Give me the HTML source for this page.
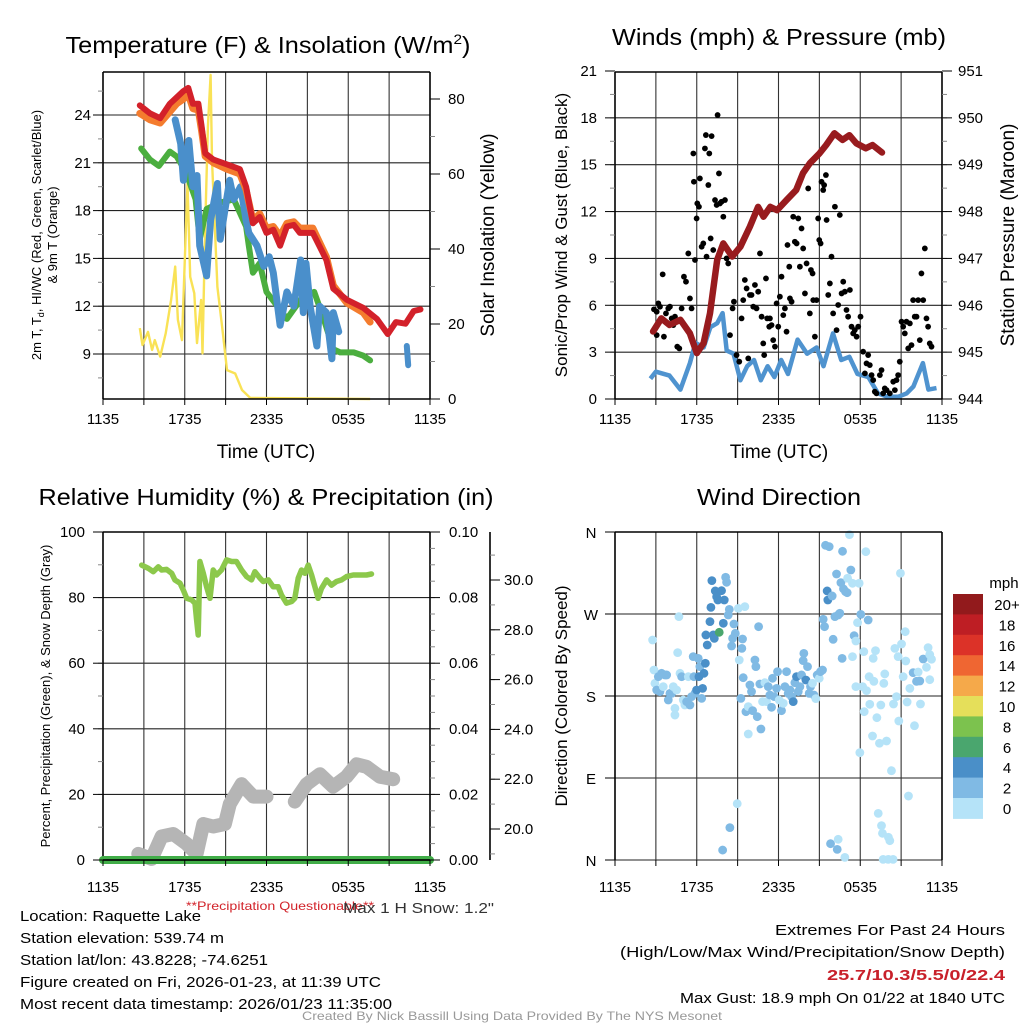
<!DOCTYPE html>
<html><head><meta charset="utf-8"><style>
html,body{margin:0;padding:0;background:#fff}
svg{display:block;font-family:"Liberation Sans",Arial,sans-serif}
</style></head><body>
<svg id="fig" width="1024" height="1024" viewBox="0 0 1024 1024" xmlns="http://www.w3.org/2000/svg">
<rect width="1024" height="1024" fill="#fff"/>
<g id="grids"></g>
<g id="series"></g>
<g id="axes"></g>
<!-- titles -->
<text x="268" y="53" font-size="23" text-anchor="middle" textLength="405" lengthAdjust="spacingAndGlyphs">Temperature (F) &amp; Insolation (W/m<tspan font-size="14" dy="-9">2</tspan><tspan dy="9">)</tspan></text>
<text x="779" y="45" font-size="23" text-anchor="middle" textLength="334" lengthAdjust="spacingAndGlyphs">Winds (mph) &amp; Pressure (mb)</text>
<text x="266" y="505" font-size="23" text-anchor="middle" textLength="455" lengthAdjust="spacingAndGlyphs">Relative Humidity (%) &amp; Precipitation (in)</text>
<text x="779" y="505" font-size="23" text-anchor="middle" textLength="164" lengthAdjust="spacingAndGlyphs">Wind Direction</text>
<!-- axis titles -->
<text x="266" y="458" font-size="19" text-anchor="middle">Time (UTC)</text>
<text x="779" y="458" font-size="19" text-anchor="middle">Time (UTC)</text>
<g transform="translate(41,235) rotate(-90)"><text x="0" y="0" font-size="13" text-anchor="middle">2m T, T<tspan font-size="9" dy="3">d</tspan><tspan dy="-3">, HI/WC (Red, Green, Scarlet/Blue)</tspan></text><text x="0" y="16" font-size="13" text-anchor="middle">&amp; 9m T (Orange)</text></g>
<text transform="translate(494,235) rotate(-90)" font-size="19" text-anchor="middle">Solar Insolation (Yellow)</text>
<text transform="translate(567,235) rotate(-90)" font-size="17" text-anchor="middle">Sonic/Prop Wind &amp; Gust (Blue, Black)</text>
<text transform="translate(1014,235) rotate(-90)" font-size="19" text-anchor="middle">Station Pressure (Maroon)</text>
<text transform="translate(50,696) rotate(-90)" font-size="13" text-anchor="middle">Percent, Precipitation (Green), &amp; Snow Depth (Gray)</text>
<text transform="translate(567,696) rotate(-90)" font-size="17" text-anchor="middle">Direction (Colored By Speed)</text>
<!-- bottom text -->
<text x="186" y="910" font-size="12" fill="#d2232a" textLength="188" lengthAdjust="spacingAndGlyphs">**Precipitation Questionable**</text>
<text x="343" y="913" font-size="15" fill="#333" textLength="151" lengthAdjust="spacingAndGlyphs">Max 1 H Snow: 1.2"</text>
<g font-size="15" fill="#000">
<text x="20" y="921" textLength="181" lengthAdjust="spacingAndGlyphs">Location: Raquette Lake</text>
<text x="20" y="943" textLength="204" lengthAdjust="spacingAndGlyphs">Station elevation: 539.74 m</text>
<text x="20" y="965" textLength="248" lengthAdjust="spacingAndGlyphs">Station lat/lon: 43.8228; -74.6251</text>
<text x="20" y="987" textLength="361" lengthAdjust="spacingAndGlyphs">Figure created on Fri, 2026-01-23, at 11:39 UTC</text>
<text x="20" y="1009" textLength="372" lengthAdjust="spacingAndGlyphs">Most recent data timestamp: 2026/01/23 11:35:00</text>
</g>
<g font-size="15" text-anchor="end">
<text x="1005" y="935" textLength="230" lengthAdjust="spacingAndGlyphs">Extremes For Past 24 Hours</text>
<text x="1005" y="957" textLength="385" lengthAdjust="spacingAndGlyphs">(High/Low/Max Wind/Precipitation/Snow Depth)</text>
<text x="1005" y="980" font-weight="bold" fill="#c8202a" textLength="178" lengthAdjust="spacingAndGlyphs">25.7/10.3/5.5/0/22.4</text>
<text x="1005" y="1003" textLength="325" lengthAdjust="spacingAndGlyphs">Max Gust: 18.9 mph On 01/22 at 1840 UTC</text>
</g>
<text x="512" y="1020" font-size="12" fill="#999" text-anchor="middle" textLength="420" lengthAdjust="spacingAndGlyphs">Created By Nick Bassill Using Data Provided By The NYS Mesonet</text>
</svg>
<script>
// ---------- DATA ----------
const xTickLabels = ["1135","1735","2335","0535","1135"];
const tempTicks = [9,12,15,18,21,24];
const solarTicks = [0,20,40,60,80];
const windTicks = [0,3,6,9,12,15,18,21];
const presTicks = [944,945,946,947,948,949,950,951];
const rhTicks = [0,20,40,60,80,100];
const precipTicks = ["0.00","0.02","0.04","0.06","0.08","0.10"];
const snowTicks = ["20.0","22.0","24.0","26.0","28.0","30.0"];
const dirLabels = ["N","E","S","W","N"];
const speedBins = ["0","2","4","6","8","10","12","14","16","18","20+"];
const speedColors = ["#b5e3f8","#80bae4","#4a8fc8","#4aa66e","#7cc24e","#e5df5a","#f5a94a","#ef6632","#dc3228","#be1e24","#921a1c"];

const redH = [2.7,3.45,4.2,4.9,5.4,5.9,6.26,6.6,7.0,7.24,7.5,8.1,9.1,10.05,10.5,11.0,11.5,12.0,12.5,13.0,13.5,14.0,14.45,15.4,16.4,16.9,17.9,19.1,20.1,20.9,21.5,22.2,22.8,23.3];
const redT = [24.6,24.1,23.8,24.7,25.1,25.5,25.7,24.7,24.7,23.3,21.6,21.2,20.9,20.6,19.5,17.2,17.6,16.6,16.8,15.8,17.0,17.1,16.6,16.6,14.9,13.1,12.4,11.9,11.2,10.25,11.0,10.9,11.7,11.8];
const orangeH = [2.7,3.45,4.2,4.9,5.4,5.9,6.26,6.6,7.0,7.24,7.5,8.1,9.1,10.05,10.5,11.0,11.5,12.0,12.5,13.0,13.5,14.0,14.45,15.4,16.4,16.9,17.9,19.1,19.6];
const orangeT = [24.1,23.7,23.5,24.2,24.7,25.0,25.3,24.4,24.3,23.0,21.4,21.0,20.6,20.3,19.3,17.4,17.8,16.9,17.0,16.4,17.2,17.3,16.9,16.9,15.1,13.3,12.2,11.6,11.0];
const dewH = [2.8,3.45,4.1,4.9,5.4,6.1,6.8,7.1,7.6,8.6,9.6,10.5,10.7,11.0,11.5,12.0,12.8,13.5,14.5,15.5,16.2,16.9,17.4,18.4,19.1,19.6];
const dewT = [21.9,21.2,20.8,21.7,21.4,20.4,18.7,16.2,18.1,18.5,18.7,17.0,15.8,14.1,14.7,12.9,12.0,11.2,12.4,12.9,11.2,9.3,9.1,9.1,8.9,8.6];
const wcH = [5.3,5.7,5.9,6.3,6.6,6.9,7.1,7.6,7.9,8.4,8.6,9.3,9.6,10.1,10.5,10.7,11.3,11.8,12.2,12.5,13.0,13.5,14.0,14.5,14.7,14.9,15.2,15.7,15.9,16.4,16.8,16.9,17.3];
const wcT = [23.7,22.2,19.9,22.4,19.5,20.2,15.8,13.9,17.4,19.7,16.2,19.9,18.7,19.5,17.4,16.6,15.8,14.5,15.1,14.1,10.8,12.9,12.0,14.9,11.6,14.7,12.0,9.5,12.0,11.6,8.7,11.6,10.4];
const wc2H = [22.3,22.4];
const wc2T = [9.5,8.3];
const solarH = [2.7,2.9,3.3,3.6,3.8,4.2,4.6,5.0,5.3,5.5,5.8,6.0,6.2,6.4,6.7,6.9,7.2,7.3,7.5,7.7,7.9,8.0,8.4,8.8,9.1,9.7,10.2,10.8,19.6];
const solarV = [18.9,14.4,17.9,13.1,15.7,11.3,17.5,26.4,35.3,21.1,15.7,37.1,57.5,32.6,28.2,14.9,26.4,12.2,45.9,72.6,86.4,63.7,29.9,17.5,7.7,6.8,2.4,0.3,0];

const presH = [2.8,3.4,4.0,4.8,5.5,6.0,6.5,6.97,7.5,7.95,8.6,9.2,9.9,10.5,10.9,11.4,11.9,12.6,13.3,13.8,14.3,15.0,15.5,16.1,16.7,17.2,17.7,18.4,18.9,19.6];
const presV = [945.44,945.72,945.58,945.69,945.40,944.98,945.19,945.83,946.97,947.32,947.04,947.25,947.68,948.10,947.89,948.10,948.03,948.25,948.46,948.82,949.03,949.24,949.42,949.67,949.53,949.63,949.46,949.35,949.42,949.26];
const windH = [2.6,3.0,4.0,4.8,5.5,5.9,6.5,7.0,7.5,7.9,8.2,8.7,9.2,9.7,10.2,10.7,11.2,11.7,12.2,12.7,13.4,14.1,14.8,15.3,16.0,16.6,17.2,17.8,18.6,19.3,20.0,20.8,21.4,21.9,22.6,23.0,23.6];
const windV = [1.3,1.75,1.5,0.6,2.3,3.6,3.3,4.6,4.85,5.5,3.1,2.9,1.2,2.1,2.5,1.2,2.1,1.4,2.5,1.6,3.8,2.9,3.3,2.1,4.2,2.5,2.7,1.6,1.4,0.36,0.15,0.15,0.36,0.8,2.3,0.6,0.7];
const gustH = [2.86,3.06,3.18,3.30,3.06,3.50,3.59,3.74,3.91,4.03,4.16,4.28,4.40,4.57,4.72,4.89,5.06,5.21,5.38,5.50,5.62,5.75,5.79,5.87,5.99,6.04,6.16,6.23,6.36,6.48,6.60,6.67,6.72,6.85,6.92,7.02,7.09,7.21,7.34,7.46,7.53,7.63,7.70,7.82,7.95,8.07,8.19,8.31,8.44,8.63,8.73,8.92,9.12,9.29,9.41,9.53,9.66,9.78,9.90,10.02,10.15,10.27,10.39,10.51,10.64,10.76,10.88,10.95,11.08,11.17,11.32,11.37,11.49,11.61,11.74,11.86,11.98,12.10,12.22,12.35,12.47,12.59,12.66,12.79,12.84,12.96,13.08,13.20,13.33,13.45,13.57,13.69,13.81,13.94,14.06,14.18,14.30,14.38,14.50,14.55,14.67,14.79,14.91,14.99,15.09,15.16,15.28,15.35,15.48,15.53,15.65,15.77,15.89,16.01,16.14,16.26,16.38,16.50,16.63,16.75,16.87,16.99,17.11,17.24,17.36,17.48,17.60,17.73,17.85,18.02,18.21,18.34,18.46,18.58,18.70,18.83,18.95,19.07,19.19,19.44,19.56,19.68,19.80,19.93,20.17,20.42,20.54,20.66,20.78,20.90,21.03,21.15,21.27,21.39,21.52,21.64,21.76,21.88,22.00,22.13,22.25,22.37,22.49,22.62,22.74,22.86,22.98,23.10,23.23];
const gustV = [5.74,5.59,6.12,5.91,4.09,7.98,3.99,5.48,5.80,5.91,5.16,4.73,5.27,3.35,3.24,5.80,7.83,7.51,9.32,6.44,5.80,15.72,13.91,8.90,11.56,12.52,12.31,14.12,9.75,9.96,16.04,16.90,9.11,13.70,15.72,10.28,16.83,9.54,12.74,12.42,18.18,14.44,12.52,12.63,11.67,12.74,9.00,8.68,4.09,5.80,6.23,2.81,2.39,5.16,6.33,7.62,7.08,2.60,6.66,6.66,5.91,7.30,5.80,6.87,9.32,5.27,3.56,2.81,7.72,5.16,4.63,5.16,4.73,3.77,3.35,6.12,4.63,6.55,7.83,5.37,5.80,4.31,9.86,8.47,6.44,6.23,11.67,10.07,9.96,11.56,8.47,10.92,9.64,6.76,8.68,13.48,5.48,8.26,8.04,6.33,3.99,6.33,11.56,10.18,9.96,13.91,13.38,13.70,14.34,11.46,6.66,7.40,9.11,5.48,12.31,4.41,6.02,11.78,6.76,7.51,6.87,5.70,5.27,6.98,4.63,4.20,4.41,3.99,4.63,5.27,3.03,1.64,2.28,2.81,2.17,1.53,1.21,0.47,0.36,1.53,1.85,0.36,0.68,0.57,0.36,1.11,0.57,1.21,1.53,2.39,4.95,4.63,4.20,4.95,3.24,4.84,3.45,6.33,5.27,5.27,6.33,3.77,8.04,6.33,9.64,5.16,4.63,3.56,3.35];

const rhH = [2.84,3.33,3.69,4.06,4.30,4.67,5.04,5.28,5.65,5.89,6.14,6.50,6.75,6.87,6.99,7.11,7.36,7.60,7.85,8.09,8.34,8.70,9.07,9.44,9.80,10.17,10.54,10.90,11.15,11.52,11.76,12.13,12.49,12.86,13.10,13.47,13.84,14.08,14.33,14.57,14.82,15.06,15.31,15.55,15.79,16.04,16.41,16.77,17.14,17.51,17.87,18.36,18.85,19.34,19.71];
const rhV = [89.9,88.9,87.9,89.4,88.4,88.6,87.4,85.4,84.4,82.3,79.8,79.3,78.3,73.2,68.6,91.0,87.4,83.3,79.8,88.4,86.9,88.4,91.5,91.0,91.0,88.4,86.4,85.4,87.9,85.9,84.9,85.4,83.3,83.3,80.8,78.3,78.8,79.8,85.9,88.4,87.4,89.9,86.9,83.3,79.8,82.8,85.4,83.8,84.9,85.4,86.4,86.9,86.9,86.9,87.2];
const precipH = [0,24];
const precipV = [0,0];
const snowH = [2.59,3.57,4.30,5.16,6.14,6.87,7.36,8.09,8.95,9.31,10.17,11.03,12.00,null,14.08,14.94,15.92,16.89,17.87,18.61,19.34,20.32,21.30];
const snowV = [19.0,18.8,19.7,19.8,19.4,19.0,20.2,20.1,20.2,21.0,21.8,21.3,21.3,null,21.1,21.8,22.2,21.7,22.1,22.6,22.5,22.1,22.0];

const dirH = [2.76,2.86,2.93,3.06,3.18,3.30,3.42,3.54,3.67,3.79,3.91,4.03,4.16,4.28,4.40,4.40,4.52,4.60,4.69,4.77,4.89,5.01,5.13,5.26,5.38,5.50,5.62,5.74,5.79,5.87,5.99,6.11,6.16,6.23,6.36,6.43,6.53,6.63,6.67,6.77,6.97,7.04,7.11,7.21,7.29,7.36,7.46,7.55,7.65,7.82,7.95,8.02,8.12,8.19,8.31,8.39,8.56,8.63,8.73,8.83,9.05,9.12,9.24,9.31,9.36,9.41,9.53,9.61,9.78,9.78,9.90,10.02,10.10,10.27,10.34,10.44,10.54,10.63,10.71,10.83,11.00,11.12,11.25,11.37,11.49,11.56,11.69,11.86,11.93,12.05,12.22,12.35,12.47,12.59,12.71,12.84,12.96,13.08,13.20,13.32,13.45,13.57,13.69,13.81,13.86,14.01,14.13,14.25,14.35,14.50,14.60,14.74,14.84,14.99,15.08,15.23,15.28,15.38,15.45,15.57,15.62,15.72,15.94,16.01,16.14,16.26,16.38,16.50,16.58,16.67,16.70,16.77,16.92,17.04,17.07,17.21,17.31,17.43,17.43,17.55,17.68,17.68,17.80,17.92,17.97,18.04,18.17,18.26,18.29,18.41,18.46,18.58,18.65,18.70,18.90,18.95,19.00,19.12,19.22,19.32,19.41,19.51,19.56,19.63,19.73,19.80,19.93,20.07,20.17,20.29,20.44,20.54,20.66,20.78,20.83,20.95,21.03,21.15,21.30,21.34,21.44,21.54,21.64,21.88,21.98,22.13,22.25,22.37,22.42,22.62,22.86,22.98,23.10,23.10,23.23,8.43,8.97,7.90,15.82,16.31,16.38,16.87,19.68,20.05,20.41];
const dirV = [241.5,208.5,193.9,186.6,201.2,184.8,204.9,190.3,203.1,203.1,175.6,182.9,182.9,190.3,166.5,159.1,186.6,227.6,267.1,204.9,201.2,175.6,170.1,173.8,201.2,170.1,179.3,223.2,201.2,182.9,186.6,221.3,201.2,212.2,177.4,188.4,204.9,215.9,247.0,236.0,261.6,277.3,306.6,247.0,243.3,295.3,289.0,285.4,249.9,295.6,259.8,285.4,310.3,304.8,268.9,275.1,234.9,243.3,259.0,248.8,276.2,219.5,177.4,232.3,242.6,200.1,278.1,162.8,168.3,138.3,192.1,184.8,163.9,219.5,212.2,157.3,256.1,193.2,143.8,173.8,194.6,173.8,190.3,181.1,167.6,199.4,179.3,188.4,206.7,175.6,163.9,172.0,190.3,206.7,182.9,186.6,179.3,173.8,194.6,201.2,184.8,190.3,203.1,218.8,226.8,197.6,212.2,182.9,190.3,194.0,181.1,177.1,203.1,199.4,206.7,208.5,264.2,256.1,345.4,295.3,285.4,343.9,289.8,242.2,267.1,313.9,268.9,270.8,304.4,221.3,338.8,297.5,294.5,293.4,309.2,357.1,318.3,303.7,223.2,246.2,240.4,190.3,260.5,303.7,117.8,269.6,190.3,228.7,162.8,338.4,185.9,263.4,201.2,170.9,136.1,221.3,196.1,229.8,156.2,51.2,128.1,170.1,37.7,29.3,193.9,204.2,130.6,24.9,21.2,98.0,171.2,232.3,179.3,223.2,152.6,314.7,237.1,201.2,250.6,218.4,173.4,70.2,188.4,205.6,147.4,196.1,206.3,196.5,171.2,220.6,211.5,233.1,225.4,197.9,220.3,35.5,61.8,10.9,17.9,11.7,22.7,2.9,0.7,0.7,0.7];
const dirS = [1,1,1,3,3,3,3,1,3,3,3,3,3,1,1,1,1,1,1,1,3,1,1,3,1,3,3,3,3,3,5,3,5,3,3,5,5,5,5,5,5,5,5,5,5,5,5,5,7,5,5,5,3,3,3,3,3,3,3,3,1,1,3,3,3,3,1,3,1,1,3,3,3,3,3,3,3,3,3,1,1,1,3,3,3,3,3,3,3,1,3,1,3,3,3,3,3,5,3,5,3,3,3,3,3,5,3,3,3,1,3,1,3,1,3,3,3,3,3,5,5,3,3,3,3,3,3,3,3,3,3,3,3,3,1,1,3,1,1,3,1,1,1,1,1,3,1,1,1,1,1,3,1,1,1,1,1,1,1,1,1,1,1,1,1,1,1,1,1,1,1,1,1,1,1,1,1,1,1,1,1,1,1,3,1,3,1,3,1,3,1,1,1,1,1,3,1,3,3,3,1,1,1,1,1];

// ---------- RENDER ----------
const NS = "http://www.w3.org/2000/svg";
const gGrid = document.getElementById('grids');
const gSer = document.getElementById('series');
const gAx = document.getElementById('axes');
function mk(tag, attrs, parent){
  const e = document.createElementNS(NS, tag);
  for (const k in attrs) e.setAttribute(k, attrs[k]);
  (parent||gSer).appendChild(e);
  return e;
}
function panel(x0,x1,y0,y1){
  return {x0,x1,y0,y1,
    sx:h=>x0+(x1-x0)*h/24};
}
function lin(v0,v1,p0,p1){return v=>p0+(v-v0)*(p1-p0)/(v1-v0);}
function pathFrom(xs, ys, fx, fy){
  let d="", pen=false;
  for(let i=0;i<xs.length;i++){
    if(xs[i]===null||ys[i]===null){pen=false;continue;}
    d += (pen?"L":"M")+fx(xs[i]).toFixed(1)+","+fy(ys[i]).toFixed(1);
    pen=true;
  }
  return d;
}
function timeGrid(P, yl, name){
  for(let k=0;k<=8;k++){
    const x=P.sx(k*3);
    const l=mk('line',{x1:x,x2:x,y1:P.y0,y2:P.y1,stroke:k===0||k===8?'#000':'#333','stroke-width':k===0||k===8?1.6:1.1},gGrid);
    
    
    mk('line',{x1:x,x2:x,y1:P.y1,y2:P.y1+6,stroke:'#000','stroke-width':1},gAx);
  }
  xTickLabels.forEach((t,i)=>{
    const tx=mk('text',{x:P.sx(i*6),y:yl,'font-size':15,'text-anchor':'middle'},gAx);
    tx.textContent=t;
    
    
  });
}
function hgrid(P, ys, fy){
  ys.forEach(v=>{mk('line',{x1:P.x0,x2:P.x1,y1:fy(v),y2:fy(v),stroke:'#222','stroke-width':1.1},gGrid);});
}
function leftTicks(P, ticks, fy, lx, name, minorStep, lo, hi){
  mk('line',{x1:P.x0,x2:P.x1,y1:P.y0,y2:P.y0,stroke:'#000','stroke-width':1.6},gAx);
  mk('line',{x1:P.x0,x2:P.x1,y1:P.y1,y2:P.y1,stroke:'#000','stroke-width':1.6},gAx);
  if(minorStep){for(let v=lo;v<=hi+1e-6;v+=minorStep){mk('line',{x1:P.x0-5,x2:P.x0,y1:fy(v),y2:fy(v),stroke:'#888','stroke-width':1},gAx);}}
  ticks.forEach(v=>{
    mk('line',{x1:P.x0-10,x2:P.x0,y1:fy(+v),y2:fy(+v),stroke:'#000','stroke-width':1},gAx);
    const t=mk('text',{x:lx,y:fy(+v)+5,'font-size':15,'text-anchor':'end'},gAx);
    t.textContent=v;
    
    
  });
}
function rightTicks(P, ticks, vals, fy, lx, name, minorStep, lo, hi, ax){
  const X = ax||P.x1;
  if(minorStep){for(let v=lo;v<=hi+1e-6;v+=minorStep){mk('line',{x1:X,x2:X+5,y1:fy(v),y2:fy(v),stroke:'#888','stroke-width':1},gAx);}}
  ticks.forEach((lab,i)=>{
    const v=vals[i];
    mk('line',{x1:X,x2:X+10,y1:fy(v),y2:fy(v),stroke:'#000','stroke-width':1},gAx);
    const t=mk('text',{x:lx,y:fy(v)+5,'font-size':15},gAx);
    t.textContent=lab;
    
    
  });
}

// Panel 1: temperature
const P1=panel(103,430,72,399);
const fT=lin(9,24,354,115), fS=lin(0,80,399,99);
hgrid(P1,tempTicks,fT);
timeGrid(P1,424,'temp');
leftTicks(P1,tempTicks,fT,91,'temp-y',1.5,7.5,25.5);
rightTicks(P1,solarTicks,solarTicks,fS,448,'solar-y',10,0,80);
let e;
e=mk('path',{d:pathFrom(solarH,solarV,P1.sx,fS),fill:'none',stroke:'#f9e256','stroke-width':2.4,'stroke-linejoin':'round'});


e=mk('path',{d:pathFrom(dewH,dewT,P1.sx,fT),fill:'none',stroke:'#4bae3f','stroke-width':6,'stroke-linejoin':'round','stroke-linecap':'round'});


e=mk('path',{d:pathFrom(wcH,wcT,P1.sx,fT),fill:'none',stroke:'#4a8fcb','stroke-width':7,'stroke-linejoin':'round','stroke-linecap':'round'});


e=mk('path',{d:pathFrom(wc2H,wc2T,P1.sx,fT),fill:'none',stroke:'#4a8fcb','stroke-width':6,'stroke-linecap':'round'});


e=mk('path',{d:pathFrom(orangeH,orangeT,P1.sx,fT),fill:'none',stroke:'#f47c2e','stroke-width':7,'stroke-linejoin':'round','stroke-linecap':'round'});


e=mk('path',{d:pathFrom(redH,redT,P1.sx,fT),fill:'none',stroke:'#d3212a','stroke-width':6,'stroke-linejoin':'round','stroke-linecap':'round'});



// Panel 2: winds
const P2=panel(615,942,72,399);
const fW=lin(0,21,399,71), fP=lin(944,951,399,71);
hgrid(P2,windTicks.slice(1,7),fW);
timeGrid(P2,424,'wind');
leftTicks(P2,windTicks,fW,597,'wind-y',1.5,0,21);
rightTicks(P2,presTicks,presTicks,fP,958,'pressure-y',0.5,944,951);
e=mk('path',{d:pathFrom(windH,windV,P2.sx,fW),fill:'none',stroke:'#4f93cf','stroke-width':4.5,'stroke-linejoin':'round'});


for(let i=0;i<gustH.length;i++){
  const c=mk('circle',{cx:P2.sx(gustH[i]),cy:fW(gustV[i]),r:2.9,fill:'#000'});
  
  
}
e=mk('path',{d:pathFrom(presH,presV,P2.sx,fP),fill:'none',stroke:'#981b1e','stroke-width':6.5,'stroke-linejoin':'round','stroke-linecap':'round'});



// Panel 3: RH
const P3=panel(103,430,532,860);
const fR=lin(0,100,860,532), fPr=lin(0,0.1,860,532), fSn=lin(20,30,829,580);
hgrid(P3,rhTicks.slice(1,5),fR);
timeGrid(P3,892,'rh');
leftTicks(P3,rhTicks,fR,85,'rh-y',10,0,100);
rightTicks(P3,precipTicks,precipTicks.map(Number),fPr,449,'precip-y',0.005,0,0.1);
mk('line',{x1:490,x2:490,y1:532,y2:860,stroke:'#000','stroke-width':1.6},gAx);
rightTicks(P3,snowTicks,snowTicks.map(Number),fSn,504,'snow-y',1,19,31,490);
e=mk('path',{d:pathFrom(snowH,snowV,P3.sx,fSn),fill:'none',stroke:'#b5b5b5','stroke-width':14,'stroke-linejoin':'round','stroke-linecap':'round'});


e=mk('path',{d:pathFrom(rhH,rhV,P3.sx,fR),fill:'none',stroke:'#8cc84b','stroke-width':5.5,'stroke-linejoin':'round','stroke-linecap':'round'});


e=mk('path',{d:pathFrom(precipH,precipV,P3.sx,fPr),fill:'none',stroke:'#41ad48','stroke-width':8,'stroke-linecap':'round'});


mk('line',{x1:103,x2:430,y1:860,y2:860,stroke:'#000','stroke-width':1.3});

// Panel 4: wind direction
const P4=panel(615,942,532,860);
const fD=lin(0,360,860,532);
hgrid(P4,[0,90,180,270,360],fD);
timeGrid(P4,892,'dir');
dirLabels.forEach((l,i)=>{
  mk('line',{x1:P4.x0-10,x2:P4.x0,y1:fD(i*90),y2:fD(i*90),stroke:'#000'},gAx);
  const t=mk('text',{x:591,y:fD(i*90)+6,'font-size':15,'text-anchor':'middle'},gAx);
  t.textContent=l;
  
  
});
mk('line',{x1:P4.x0,x2:P4.x1,y1:532,y2:532,stroke:'#000','stroke-width':1.4},gAx);
for(let i=0;i<dirH.length;i++){
  const bin=Math.min(10,Math.floor(dirS[i]/2));
  const c=mk('circle',{cx:P4.sx(dirH[i]),cy:fD(dirV[i]),r:4.4,fill:speedColors[bin]});
  
  
}
// colorbar
const cbTop=594, cbH=20.4;
const tm=mk('text',{x:1004,y:588,'font-size':15,'text-anchor':'middle'},gAx);
tm.textContent='mph';


for(let i=0;i<speedBins.length;i++){
  const k=speedBins.length-1-i;
  const r=mk('rect',{x:953,y:cbTop+i*cbH,width:30,height:cbH+0.5,fill:speedColors[k]},gAx);
  
  
  const t=mk('text',{x:1007,y:cbTop+i*cbH+16,'font-size':15,'text-anchor':'middle'},gAx);
  t.textContent=speedBins[k];
  
  
}
</script>
</body></html>
